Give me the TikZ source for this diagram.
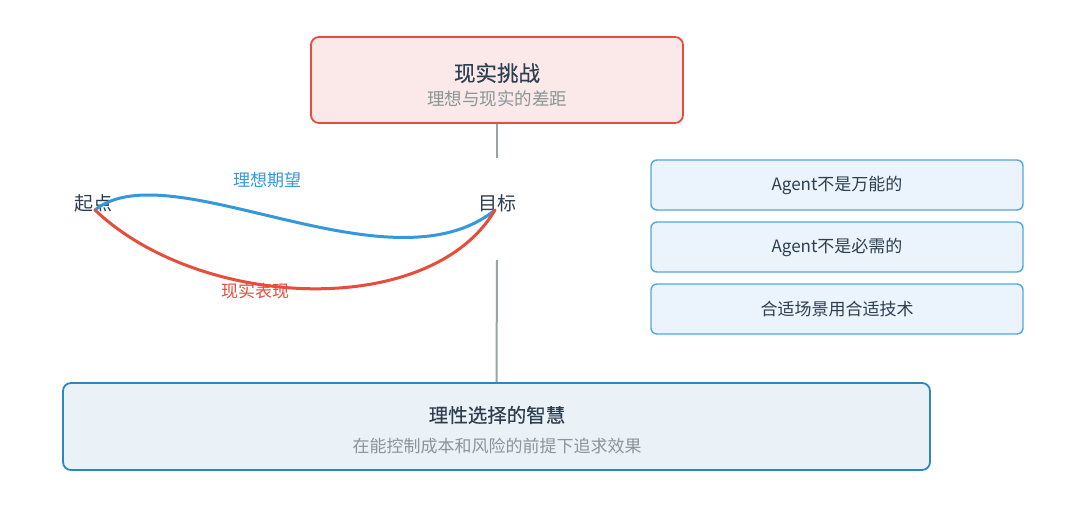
\documentclass[tikz,border=0pt]{standalone}
\usepackage{fontspec}
\setmainfont{Noto Sans CJK SC}
\newfontfamily\medfont[FakeBold=0.35]{Noto Sans CJK SC}
\definecolor{redline}{HTML}{E74C3C}
\definecolor{redfill}{HTML}{FBE9E9}
\definecolor{blueline}{HTML}{3498DB}
\definecolor{bluefill}{HTML}{EBF4FC}
\definecolor{darkblue}{HTML}{2E86C1}
\definecolor{bluefill2}{HTML}{EAF2F8}
\definecolor{textdark}{HTML}{2C3E50}
\definecolor{textgray}{HTML}{8A9596}
\definecolor{linegray}{HTML}{95A5A6}
\begin{document}
\begin{tikzpicture}[x=1pt,y=-1pt,
  box/.style={rounded corners=8pt, line width=1.8pt},
  sidebox/.style={draw=blueline!85, fill=bluefill, rounded corners=6pt, line width=1.4pt,
     minimum width=372pt, minimum height=50pt, inner sep=0pt, font=\fontsize{17}{19}\selectfont, text=textdark},
  endpt/.style={font=\fontsize{19}{21}\selectfont, text=textdark, inner sep=0pt},
  curvelabel/.style={font=\fontsize{17}{19}\selectfont, inner sep=0pt},
  conn/.style={draw=linegray, line width=2pt}]
\useasboundingbox (0,0) rectangle (1080,519);
\fill[white] (0,0) rectangle (1080,519);

% top box
\node[box, draw=redline, fill=redfill, minimum width=372pt, minimum height=86pt, inner sep=0pt] (top) at (497,80) {};
\node[font=\medfont\fontsize{21.5}{23}\selectfont, text=textdark] (toptitle) at (497,73) {现实挑战};
\node[font=\fontsize{17.5}{19}\selectfont, text=textgray] (topsub) at (497,99) {理想与现实的差距};

% endpoints
\node[endpt] (start) at (93,203) {起点};
\node[endpt] (goal) at (497,203) {目标};
\coordinate (s) at (95,210);
\coordinate (g) at (495,210);

\draw[blueline, line width=3pt, line cap=round] (s) .. controls (170,150) and (390,295) .. (g);
\draw[redline, line width=3pt, line cap=round] (s) .. controls (200,310) and (430,320) .. (g);
\node[curvelabel, text=blueline] (ideal) at (267,180) {理想期望};
\node[curvelabel, text=redline] (real) at (255,291) {现实表现};

% connectors
\coordinate (c1) at (497,158);
\coordinate (c2) at (497,260);
\draw[conn] (top.south) -- (c1);

% right boxes
\node[sidebox] (r1) at (837,185) {Agent不是万能的};
\node[sidebox] (r2) at (837,247) {Agent不是必需的};
\node[sidebox] (r3) at (837,309) {合适场景用合适技术};

% bottom box
\node[box, draw=darkblue, fill=bluefill2, minimum width=867pt, minimum height=87pt, inner sep=0pt] (bottom) at (496.5,426.5) {};
\node[font=\medfont\fontsize{19.5}{21}\selectfont, text=textdark] (bottitle) at (497,415) {理性选择的智慧};
\node[font=\fontsize{17}{19}\selectfont, text=textgray] (botsub) at (497,446) {在能控制成本和风险的前提下追求效果};

\draw[conn] (c2) -- (bottom.north);
\end{tikzpicture}
\end{document}
